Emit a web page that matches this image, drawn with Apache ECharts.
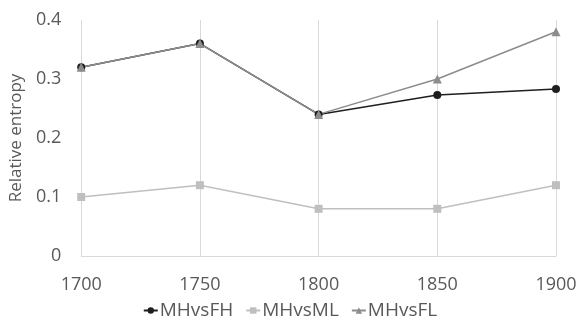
<!DOCTYPE html>
<html>
<head>
<meta charset="utf-8">
<script src="https://cdn.jsdelivr.net/npm/echarts@6/dist/echarts.min.js"></script>
<style>html,body{margin:0;padding:0;background:#fff}#c{width:580px;height:324px}</style>
</head>
<body>
<div id="c"></div>
<script>
var categories = ['1700', '1750', '1800', '1850', '1900'];
var mhvsfh = [0.32, 0.36, 0.24, 0.273, 0.283];
var mhvsml = [0.10, 0.12, 0.08, 0.08, 0.12];
var mhvsfl = [0.32, 0.36, 0.24, 0.30, 0.38];
var yTicks = [0, 0.1, 0.2, 0.3, 0.4];

var font = 'Open Sans';
var chart = echarts.init(document.getElementById('c'));
chart.setOption({
  animation: false,
  textStyle: { fontFamily: font },
  grid: { left: 81, right: 24, top: 20, bottom: 68 },
  legend: {
    bottom: -1,
    left: 'center',
    itemGap: 12,
    itemWidth: 14,
    itemHeight: 8,
    textStyle: { fontFamily: font, fontSize: 19, color: '#595959', padding: [0, 0, 0, -3] },
    data: ['MHvsFH', 'MHvsML', 'MHvsFL']
  },
  xAxis: {
    type: 'category',
    data: categories,
    boundaryGap: false,
    axisLine: { lineStyle: { color: '#d9d9d9', width: 1 } },
    axisTick: { show: false },
    axisLabel: { fontFamily: font, fontSize: 18, color: '#595959', margin: 20 },
    splitLine: { show: true, lineStyle: { color: '#d9d9d9', width: 1 } }
  },
  yAxis: {
    type: 'value',
    min: 0,
    max: 0.4,
    interval: 0.1,
    name: 'Relative entropy',
    nameLocation: 'middle',
    nameGap: 52,
    nameTextStyle: { fontFamily: font, fontSize: 17, color: '#595959' },
    axisLine: { show: false },
    axisTick: { show: false },
    splitLine: { show: false },
    axisLabel: {
      fontFamily: font, fontSize: 18, color: '#595959', margin: 20,
      formatter: function (v) { return yTicks.indexOf(Math.round(v * 10) / 10) >= 0 ? String(Math.round(v * 10) / 10) : ''; }
    }
  },
  series: [
    { name: 'MHvsFH', type: 'line', data: mhvsfh, symbol: 'circle', symbolSize: 8,
      itemStyle: { color: '#1f1f1f' }, lineStyle: { color: '#1f1f1f', width: 1.5 } },
    { name: 'MHvsML', type: 'line', data: mhvsml, symbol: 'rect', symbolSize: 8,
      itemStyle: { color: '#bfbfbf' }, lineStyle: { color: '#bfbfbf', width: 1.5 } },
    { name: 'MHvsFL', type: 'line', data: mhvsfl, symbol: 'triangle', symbolSize: 9,
      itemStyle: { color: '#8c8c8c' }, lineStyle: { color: '#8c8c8c', width: 1.5 } }
  ]
});
</script>
</body>
</html>
